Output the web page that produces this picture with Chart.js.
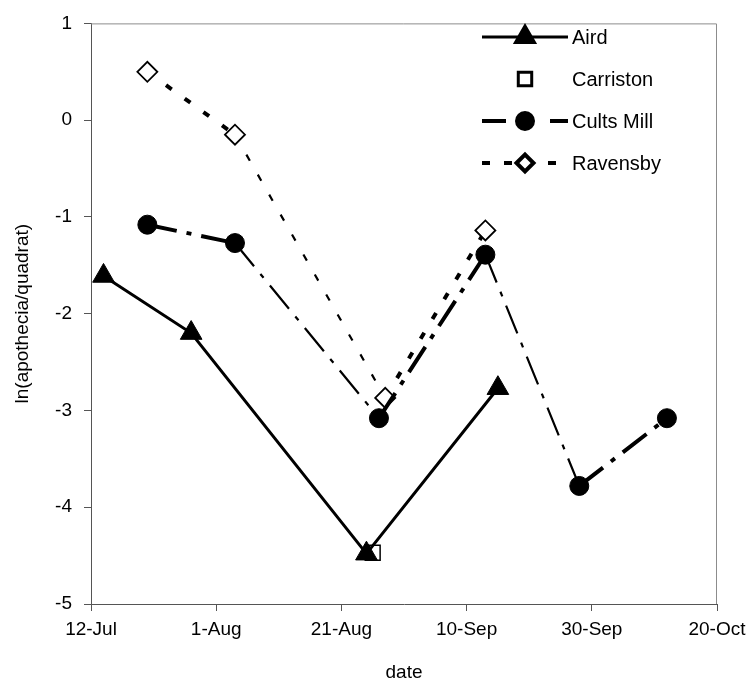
<!DOCTYPE html>
<html>
<head>
<meta charset="utf-8">
<script src="https://cdn.jsdelivr.net/npm/chart.js@4.4.1/dist/chart.umd.min.js"></script>
<style>
  html, body { margin: 0; padding: 0; background: #fff; }
</style>
</head>
<body>
<canvas id="chart" width="754" height="695"></canvas>
<script>
// sampling dates (day 0 = 12 July) and ln(apothecia/quadrat) per site
const START_DATE = '2001-07-12';
const X_TICK_LABELS = ['12-Jul', '1-Aug', '21-Aug', '10-Sep', '30-Sep', '20-Oct'];

const AIRD_DATES  = ['2001-07-14', '2001-07-28', '2001-08-25', '2001-09-15'];
const AIRD_VALUES = [-1.61, -2.2, -4.48, -2.77];

const CARRISTON_DATES  = ['2001-08-26'];
const CARRISTON_VALUES = [-4.47];

const CULTS_DATES  = ['2001-07-21', '2001-08-04', '2001-08-27', '2001-09-13', '2001-09-28', '2001-10-12'];
const CULTS_VALUES = [-1.08, -1.27, -3.08, -1.39, -3.78, -3.08];

const RAVENSBY_DATES  = ['2001-07-21', '2001-08-04', '2001-08-28', '2001-09-13'];
const RAVENSBY_VALUES = [0.5, -0.15, -2.87, -1.14];

const FONT = 'Liberation Sans, Arial, sans-serif';

const dayOf = iso => (Date.parse(iso) - Date.parse(START_DATE)) / 86400000;
const toPoints = (dates, values) => dates.map((d, i) => ({ x: dayOf(d), y: values[i] }));

// steep falling stretches of the broken lines come out thinner
const steepWidth = (thin, thick) => ctx => {
  const dx = ctx.p1.x - ctx.p0.x;
  const dy = ctx.p1.y - ctx.p0.y;
  return dy > dx ? thin : thick;
};

// grey box round the plot area (top and right edges)
const frame = {
  id: 'frame',
  beforeDatasetsDraw(chart) {
    const { ctx, chartArea: a } = chart;
    ctx.save();
    ctx.strokeStyle = '#8c8c8c';
    ctx.lineWidth = 1;
    ctx.beginPath();
    ctx.moveTo(a.left, a.top + 0.5);
    ctx.lineTo(a.right - 0.5, a.top + 0.5);
    ctx.lineTo(a.right - 0.5, a.bottom);
    ctx.stroke();
    ctx.restore();
  },
};

// legend inside the plot: line sample with its marker, then the site name
const insideLegend = {
  id: 'insideLegend',
  afterDatasetsDraw(chart) {
    const { ctx } = chart;
    const x0 = 482, x1 = 568, top = 37, step = 42;
    ctx.save();
    chart.data.datasets.forEach((ds, i) => {
      const y = top + i * step;
      if (ds.showLine !== false) {
        ctx.strokeStyle = ds.borderColor;
        ctx.lineWidth = ds.borderWidth;
        ctx.setLineDash(ds.legendDash || ds.borderDash || []);
        ctx.beginPath();
        ctx.moveTo(x0, y);
        ctx.lineTo(x1, y);
        ctx.stroke();
        ctx.setLineDash([]);
      }
      ctx.fillStyle = ds.pointBackgroundColor;
      ctx.strokeStyle = ds.pointBorderColor;
      Chart.helpers.drawPoint(ctx, {
        pointStyle: ds.pointStyle,
        radius: ds.legendRadius || ds.pointRadius,
        borderWidth: ds.pointBorderWidth,
        rotation: 0,
      }, (x0 + x1) / 2, y);
      ctx.fillStyle = '#000';
      ctx.font = '20px ' + FONT;
      ctx.textAlign = 'left';
      ctx.textBaseline = 'middle';
      ctx.fillText(ds.label, x1 + 4, y + 1);
    });
    ctx.restore();
  },
};

new Chart(document.getElementById('chart'), {
  type: 'line',
  data: {
    datasets: [
      {
        label: 'Aird',
        data: toPoints(AIRD_DATES, AIRD_VALUES),
        borderColor: '#000',
        borderWidth: 3,
        pointStyle: 'triangle',
        pointRadius: 12.5,
        legendRadius: 11,
        pointBackgroundColor: '#000',
        pointBorderColor: '#000',
        pointBorderWidth: 1,
      },
      {
        label: 'Carriston',
        data: toPoints(CARRISTON_DATES, CARRISTON_VALUES),
        showLine: false,
        borderColor: '#000',
        borderWidth: 0,
        pointStyle: 'rect',
        pointRadius: 10.5,
        legendRadius: 9.5,
        pointBackgroundColor: '#fff',
        pointBorderColor: '#000',
        pointBorderWidth: 1.5,
      },
      {
        label: 'Cults Mill',
        data: toPoints(CULTS_DATES, CULTS_VALUES),
        borderColor: '#000',
        borderWidth: 4,
        borderDash: [30, 10, 5, 10],
        legendDash: [24, 44, 18, 60],
        segment: { borderWidth: steepWidth(2.2, 4) },
        pointStyle: 'circle',
        pointRadius: 9.5,
        legendRadius: 8,
        pointBackgroundColor: '#000',
        pointBorderColor: '#000',
        pointBorderWidth: 1,
      },
      {
        label: 'Ravensby',
        data: toPoints(RAVENSBY_DATES, RAVENSBY_VALUES),
        borderColor: '#000',
        borderWidth: 4,
        borderDash: [7, 16],
        legendDash: [8, 14],
        segment: { borderWidth: steepWidth(2.2, 4) },
        pointStyle: 'rectRot',
        pointRadius: 10,
        legendRadius: 8.5,
        pointBackgroundColor: '#fff',
        pointBorderColor: '#000',
        pointBorderWidth: 1.8,
      },
    ],
  },
  options: {
    responsive: false,
    animation: false,
    layout: { padding: { top: 15, right: 37, left: 0, bottom: 0 } },
    plugins: {
      legend: { display: false },
      tooltip: { enabled: false },
    },
    scales: {
      x: {
        type: 'linear',
        min: 0,
        max: 100,
        ticks: {
          stepSize: 20,
          autoSkip: false,
          maxRotation: 0,
          padding: 7,
          color: '#000',
          font: { family: FONT, size: 19 },
          callback: v => X_TICK_LABELS[v / 20],
        },
        grid: { drawOnChartArea: false, tickLength: 7, color: '#555' },
        border: { color: '#555', width: 1 },
        title: {
          display: true,
          text: 'date',
          color: '#000',
          font: { family: FONT, size: 19 },
          padding: { top: 0, bottom: 11 },
        },
        afterFit: s => { s.height = 91; },
      },
      y: {
        min: -5,
        max: 1,
        ticks: {
          stepSize: 1,
          padding: 12,
          color: '#000',
          font: { family: FONT, size: 19 },
        },
        grid: { drawOnChartArea: false, tickLength: 7, color: '#555' },
        border: { color: '#555', width: 1 },
        title: {
          display: true,
          text: 'ln(apothecia/quadrat)',
          color: '#000',
          font: { family: FONT, size: 19 },
          padding: { top: 11, bottom: 0 },
        },
        afterFit: s => { s.width = 91; },
      },
    },
  },
  plugins: [frame, insideLegend],
});
</script>
</body>
</html>
